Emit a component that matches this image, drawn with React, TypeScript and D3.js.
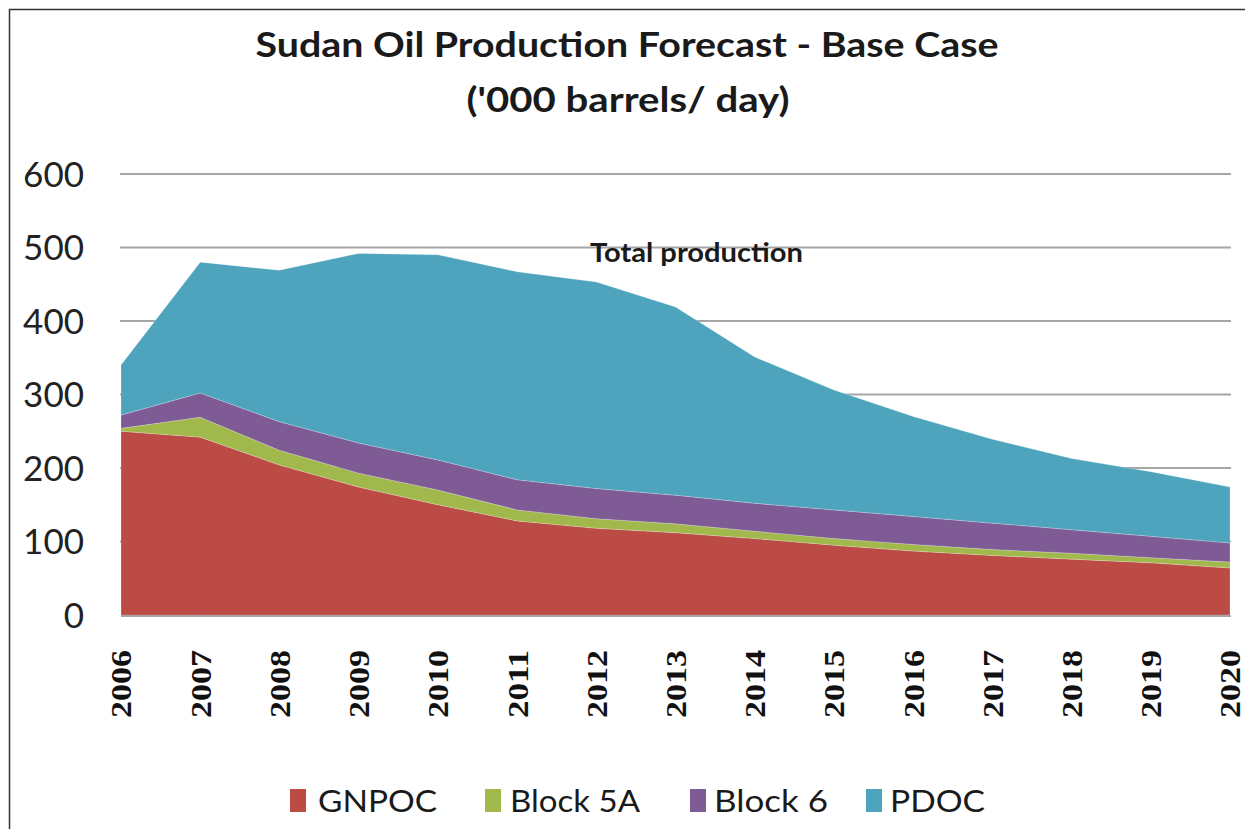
import React from "react";
import * as d3 from "d3";

const years = [2006, 2007, 2008, 2009, 2010, 2011, 2012, 2013, 2014, 2015, 2016, 2017, 2018, 2019, 2020];
const seriesNames = ["GNPOC", "Block 5A", "Block 6", "PDOC"];
const gnpoc = [250, 242, 204, 174, 150, 128, 118, 112, 104, 95, 87, 81, 76, 71, 64];
const block5a = [4, 27, 20, 19, 20, 15, 13, 12, 10, 9, 9, 8, 8, 7, 8];
const block6 = [18, 33, 39, 41, 41, 41, 41, 39, 38, 39, 38, 36, 32, 29, 26];
const pdoc = [68, 178, 206, 258, 279, 283, 281, 256, 199, 163, 136, 114, 97, 88, 76];
const yTicks = [0, 100, 200, 300, 400, 500, 600];
const colors = ["#BC4A45", "#A0B84C", "#7F5B96", "#4FA4BD"];

const W = 1245;
const H = 829;
const M = { left: 121, right: 1230, top: 174, bottom: 615 };

export default function App() {
  const x = d3.scaleLinear().domain([2006, 2020]).range([M.left, M.right]);
  const y = d3.scaleLinear().domain([0, 600]).range([M.bottom, M.top]);

  const rows = years.map((yr, i) => ({
    year: yr,
    GNPOC: gnpoc[i],
    "Block 5A": block5a[i],
    "Block 6": block6[i],
    PDOC: pdoc[i],
  }));
  const stack = d3.stack<any>().keys(seriesNames);
  const layers = stack(rows);
  const area = d3
    .area<any>()
    .x((d) => x(d.data.year))
    .y0((d) => y(d[0]))
    .y1((d) => y(d[1]))
    .curve(d3.curveLinear);

  const legendLayout = [
    { sx: 290, tx: 318, tl: 119 },
    { sx: 485, tx: 510, tl: 130 },
    { sx: 690, tx: 714, tl: 114 },
    { sx: 866, tx: 890, tl: 95 },
  ];

  return (
    <svg
      width={W}
      height={H}
      style={{ position: "absolute", left: 0, top: 0, background: "#fff" }}
    >
      <rect x={0} y={0} width={W} height={H} fill="#fff" />
      <path d={`M9.5,${H + 5} L9.5,9.5 L${W + 5},9.5`} fill="none" stroke="#333" strokeWidth={1.5} />

      <text
        x={627}
        y={57}
        textAnchor="middle"
        fontFamily="Lato, 'Open Sans', sans-serif"
        fontWeight={700}
        fontSize={35}
        fill="#1a1a1a"
        textLength={743}
        lengthAdjust="spacingAndGlyphs"
      >
        Sudan Oil Production Forecast - Base Case
      </text>
      <text
        x={628}
        y={112}
        textAnchor="middle"
        fontFamily="Lato, 'Open Sans', sans-serif"
        fontWeight={700}
        fontSize={35}
        fill="#1a1a1a"
        textLength={323}
        lengthAdjust="spacingAndGlyphs"
      >
        ('000 barrels/ day)
      </text>

      {yTicks.map((t) => (
        <g key={t}>
          {t > 0 && (
            <line x1={M.left - 1} x2={M.right + 1} y1={y(t)} y2={y(t)} stroke="#a6a6a6" strokeWidth={2} />
          )}
          <text
            x={84}
            y={y(t)}
            dy="0.36em"
            textAnchor="end"
            fontFamily="Lato, sans-serif"
            fontSize={35}
            fill="#222"
          >
            {t}
          </text>
        </g>
      ))}

      {layers.map((layer, i) => (
        <path key={seriesNames[i]} d={area(layer) || ""} fill={colors[i]} stroke="#fff" strokeOpacity={0.35} strokeWidth={0.6} />
      ))}

      <line x1={M.left} x2={M.right + 1} y1={y(0) + 1} y2={y(0) + 1} stroke="#a6a6a6" strokeWidth={2} />

      <text
        x={590}
        y={262}
        fontFamily="Lato, sans-serif"
        fontWeight={700}
        fontSize={27}
        fill="#1a1a1a"
        textLength={213}
        lengthAdjust="spacingAndGlyphs"
      >
        Total production
      </text>

      {years.map((yr) => (
        <text
          key={yr}
          transform={`translate(${x(yr)},718) rotate(-90)`}
          dy="0.36em"
          textAnchor="start"
          fontFamily="'Liberation Serif', 'DejaVu Serif', serif"
          fontWeight={700}
          fontSize={29}
          fill="#111"
          textLength={68}
          lengthAdjust="spacingAndGlyphs"
        >
          {yr}
        </text>
      ))}

      {seriesNames.map((name, i) => (
        <g key={name}>
          <rect x={legendLayout[i].sx} y={789} width={16} height={23} fill={colors[i]} />
          <text
            x={legendLayout[i].tx}
            y={812}
            fontFamily="Lato, sans-serif"
            fontSize={31}
            fill="#1a1a1a"
            textLength={legendLayout[i].tl}
            lengthAdjust="spacingAndGlyphs"
          >
            {name}
          </text>
        </g>
      ))}
    </svg>
  );
}
